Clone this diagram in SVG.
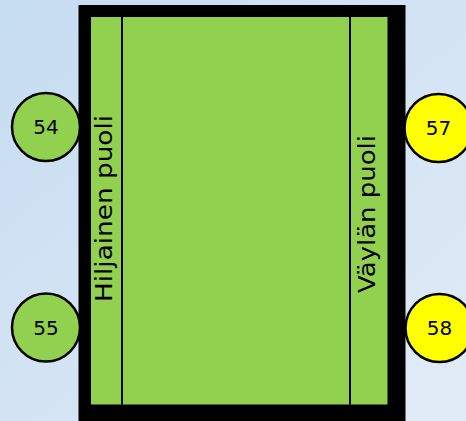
<svg xmlns="http://www.w3.org/2000/svg" width="466" height="421" viewBox="0 0 466 421">
  <defs>
    <linearGradient id="bg" x1="0" y1="0" x2="1" y2="1">
      <stop offset="0" stop-color="#c6dcf1"/>
      <stop offset="1" stop-color="#e1ebf6"/>
    </linearGradient>
  </defs>
  <style>
    .node-green { fill: #92d050; stroke: #000; stroke-width: 2.5; }
    .node-yellow { fill: #ffff00; stroke: #000; stroke-width: 2.5; }
    .num { font-family: "DejaVu Sans", "Liberation Sans", sans-serif; font-size: 20px; fill: #000; text-anchor: middle; }
    .side { font-family: "DejaVu Sans", "Liberation Sans", sans-serif; font-size: 23px; fill: #000; text-anchor: middle; }
    .divider { stroke: #000; stroke-width: 2; }
  </style>
  <rect x="0" y="0" width="466" height="421" fill="url(#bg)"/>
  <g id="area">
    <rect x="78.5" y="5" width="327" height="420" fill="#000"/>
    <rect x="91" y="17" width="296.5" height="387.5" fill="#92d050"/>
    <line class="divider" x1="122" y1="17" x2="122" y2="404.5"/>
    <line class="divider" x1="350" y1="17" x2="350" y2="404.5"/>
    <text class="side" transform="translate(112,208.5) rotate(-90)" x="0" y="0" textLength="187" lengthAdjust="spacingAndGlyphs">Hiljainen puoli</text>
    <text class="side" transform="translate(375,214) rotate(-90)" x="0" y="0" textLength="158" lengthAdjust="spacingAndGlyphs">Väylän puoli</text>
  </g>
  <g id="connectors"></g>
  <g id="node-54">
    <circle class="node-green" cx="46" cy="127" r="34"/>
    <text class="num" x="46" y="134">54</text>
  </g>
  <g id="node-55">
    <circle class="node-green" cx="46" cy="327.5" r="34"/>
    <text class="num" x="46" y="334.5">55</text>
  </g>
  <g id="node-57">
    <circle class="node-yellow" cx="438.5" cy="128" r="34"/>
    <text class="num" x="438.5" y="135">57</text>
  </g>
  <g id="node-58">
    <circle class="node-yellow" cx="439.5" cy="328" r="34"/>
    <text class="num" x="439.5" y="335">58</text>
  </g>
</svg>
